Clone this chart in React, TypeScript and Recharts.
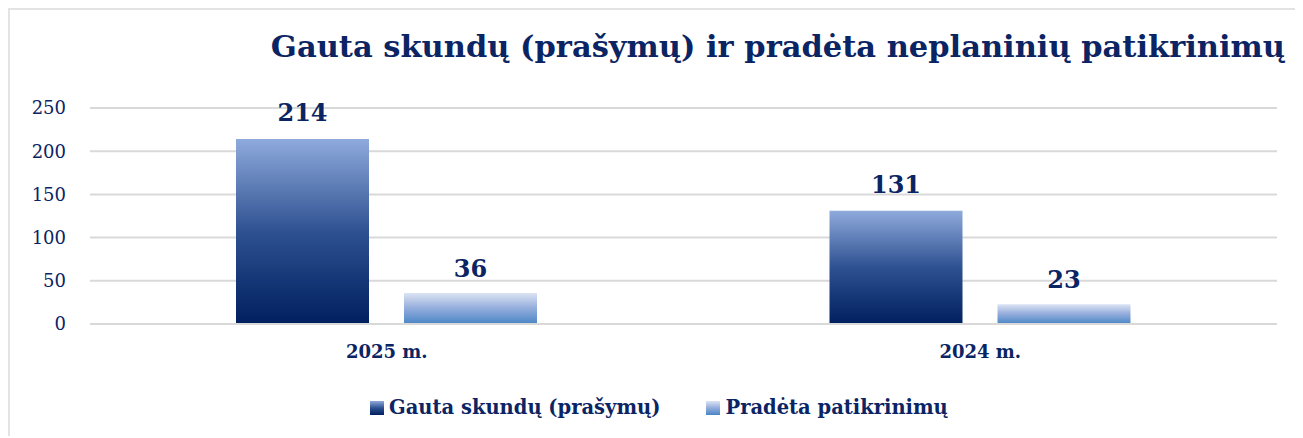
import { Bar, BarChart, CartesianGrid, LabelList, XAxis, YAxis } from "recharts";

const categories = ["2025 m.", "2024 m."];
const received = [214, 131];
const started = [36, 23];
const yTicks = [0, 50, 100, 150, 200, 250];

const NAVY = "#0b2463";
const FONT = "'DejaVu Serif', serif";

const data = categories.map((name, i) => ({
  name,
  received: received[i],
  started: started[i],
}));

const legendItems = [
  { label: "Gauta skundų (prašymų)", fill: "url(#gradReceived)" },
  { label: "Pradėta patikrinimų", fill: "url(#gradStarted)" },
];

export default function App() {
  return (
    <div
      style={{
        position: "relative",
        width: 1293,
        height: 426,
        border: "2px solid #e3e3e3",
        borderRight: "none",
        borderBottom: "none",
        background: "#fff",
      }}
    >
      <div
        style={{
          position: "absolute",
          right: 18,
          top: 18,
          fontFamily: FONT,
          fontSize: 30.5,
          fontWeight: 700,
          color: NAVY,
          whiteSpace: "nowrap",
        }}
      >
        Gauta skundų (prašymų) ir pradėta neplaninių patikrinimų
      </div>
      <BarChart
        width={1293}
        height={426}
        data={data}
        margin={{ top: 98, right: 26, left: 0, bottom: 82 }}
        barCategoryGap="24.6%"
        barGap={35}
      >
        <defs>
          <linearGradient id="gradReceived" x1="0" y1="0" x2="0" y2="1">
            <stop offset="0%" stopColor="#8faadc" />
            <stop offset="50%" stopColor="#2e5191" />
            <stop offset="100%" stopColor="#001f5e" />
          </linearGradient>
          <linearGradient id="gradStarted" x1="0" y1="0" x2="0" y2="1">
            <stop offset="0%" stopColor="#dce4f3" />
            <stop offset="50%" stopColor="#93acdc" />
            <stop offset="100%" stopColor="#4a86c5" />
          </linearGradient>
        </defs>
        <CartesianGrid vertical={false} stroke="#d9d9d9" strokeWidth={2} />
        <XAxis
          dataKey="name"
          axisLine={{ stroke: "#d9d9d9", strokeWidth: 2 }}
          tickLine={false}
          tickMargin={15}
          tick={{ fontFamily: FONT, fontSize: 18, fontWeight: 700, fill: NAVY }}
        />
        <YAxis
          width={80}
          domain={[0, 250]}
          ticks={yTicks}
          axisLine={false}
          tickLine={false}
          tickSize={0}
          tickMargin={24}
          tick={{ fontFamily: FONT, fontSize: 18, fill: NAVY }}
        />
        <Bar dataKey="received" fill="url(#gradReceived)" isAnimationActive={false}>
          <LabelList
            dataKey="received"
            position="top"
            offset={18}
            style={{ fontFamily: FONT, fontSize: 24, fontWeight: 700, fill: NAVY }}
          />
        </Bar>
        <Bar dataKey="started" fill="url(#gradStarted)" isAnimationActive={false}>
          <LabelList
            dataKey="started"
            position="top"
            offset={16}
            style={{ fontFamily: FONT, fontSize: 24, fontWeight: 700, fill: NAVY }}
          />
        </Bar>
      </BarChart>
      <div
        style={{
          position: "absolute",
          left: 360,
          top: 386,
          display: "flex",
          gap: 46,
          fontFamily: FONT,
        }}
      >
        {legendItems.map((item) => (
          <div key={item.label} style={{ display: "flex", alignItems: "center", gap: 5 }}>
            <svg width={14} height={14}>
              <rect width={14} height={14} fill={item.fill} />
            </svg>
            <span style={{ fontSize: 19.5, fontWeight: 700, color: NAVY }}>{item.label}</span>
          </div>
        ))}
      </div>
    </div>
  );
}
